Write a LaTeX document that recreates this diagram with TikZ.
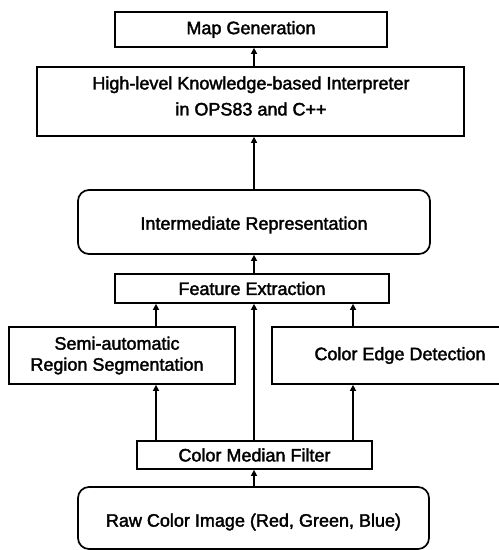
\documentclass[tikz,border=0pt]{standalone}
\usepackage{fontspec}
\setmainfont{Liberation Sans}
\newfontfamily\heavyfont[FakeBold=2]{Liberation Sans}
\usetikzlibrary{arrows.meta}
\begin{document}
\begin{tikzpicture}[x=1pt,y=-1pt,
  box/.style={draw,line width=1.7pt,inner sep=0pt,font=\heavyfont\fontsize{18}{28}\selectfont,align=center},
  rbox/.style={box,rounded corners=11pt},
  lbl/.style={font=\heavyfont\fontsize{18}{21}\selectfont,align=center,inner sep=0pt},
  arr/.style={line width=1.4pt,-{Triangle[length=6pt,width=6pt]}}]
\useasboundingbox (0,0) rectangle (499,550);
\node[box,minimum width=272pt,minimum height=35pt] (map) at (251,29.5) {Map Generation};
\node[box,minimum width=427pt,minimum height=69pt] (interp) at (250.5,101.5) {};
\node[lbl,font=\heavyfont\fontsize{18}{26}\selectfont] (interptxt) at (251,96) {High-level Knowledge-based Interpreter\\in OPS83 and C++};
\node[rbox,minimum width=352pt,minimum height=64pt] (inter) at (254,222) {};
\node[lbl] (intertxt) at (254,225) {Intermediate Representation};
\node[box,minimum width=274pt,minimum height=29pt] (feat) at (252,288.5) {Feature Extraction};
\node[box,minimum width=226pt,minimum height=57pt] (semi) at (122,355.5) {};
\node[lbl] (semitxt) at (117,355.5) {Semi-automatic\\Region Segmentation};
\node[box,minimum width=248pt,minimum height=57pt] (edge) at (396,355.5) {};
\node[lbl] (edgetxt) at (400,355.5) {Color Edge Detection};
\node[box,minimum width=235pt,minimum height=28pt] (med) at (254.5,455) {Color Median Filter};
\node[rbox,minimum width=351pt,minimum height=62pt] (raw) at (253.5,518) {};
\node[lbl] (rawtxt) at (253.5,522) {Raw Color Image (Red, Green, Blue)};
\draw[arr] (raw.north -| 254,0) -- (med.south -| 254,0);
\draw[arr] (med.north -| 156,0) -- (semi.south -| 156,0);
\draw[arr] (med.north -| 353,0) -- (edge.south -| 353,0);
\draw[arr] (med.north -| 254,0) -- (feat.south -| 254,0);
\draw[arr] (semi.north -| 156,0) -- (feat.south -| 156,0);
\draw[arr] (edge.north -| 353,0) -- (feat.south -| 353,0);
\draw[arr] (feat.north -| 254,0) -- (inter.south -| 254,0);
\draw[arr] (inter.north -| 254,0) -- (interp.south -| 254,0);
\draw[arr] (interp.north -| 254,0) -- (map.south -| 254,0);
\end{tikzpicture}
\end{document}
